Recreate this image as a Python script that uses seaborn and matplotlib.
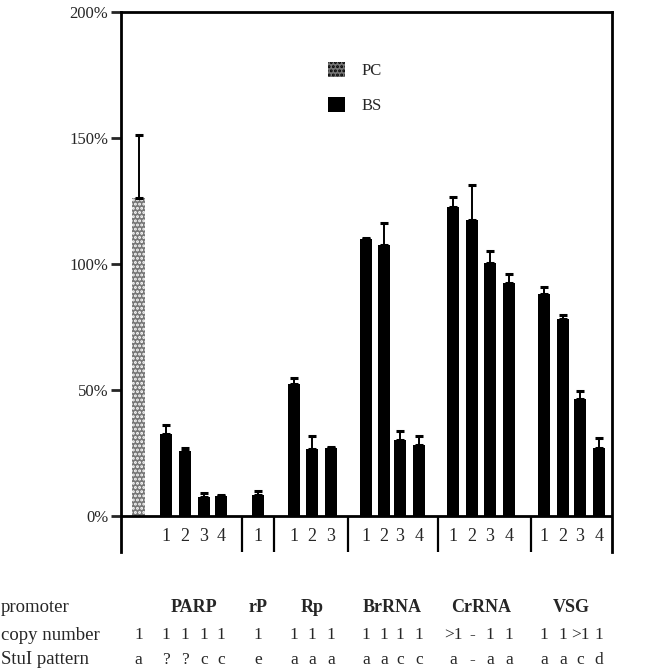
import numpy as np
import pandas as pd
import seaborn as sns
import matplotlib
matplotlib.use("Agg")
import matplotlib.pyplot as plt
import matplotlib.transforms as mtransforms
from matplotlib.patches import Patch

# ---------------- data ----------------
bar_ids = ["PC", "PARP1", "PARP2", "PARP3", "PARP4", "rP1", "Rp1", "Rp2", "Rp3",
           "BrRNA1", "BrRNA2", "BrRNA3", "BrRNA4", "CrRNA1", "CrRNA2", "CrRNA3", "CrRNA4",
           "VSG1", "VSG2", "VSG3", "VSG4"]
stage = ["PC"] + ["BS"] * 20
promoter = ["", "PARP", "PARP", "PARP", "PARP", "rP", "Rp", "Rp", "Rp",
            "BrRNA", "BrRNA", "BrRNA", "BrRNA", "CrRNA", "CrRNA", "CrRNA", "CrRNA",
            "VSG", "VSG", "VSG", "VSG"]
values = [126, 32.4, 25.8, 7.4, 7.9, 8.3, 52.5, 26.6, 26.9,
          109.9, 107.5, 30.2, 28.2, 122.7, 117.5, 100.3, 92.3,
          88.1, 78.0, 46.3, 27.1]
errors = [25, 3.6, 1.2, 1.6, 0.6, 1.7, 2.4, 5.3, 0.5,
          0.6, 8.6, 3.7, 3.7, 4.0, 13.8, 5.0, 3.6,
          2.6, 1.8, 3.4, 3.7]
sub_labels = ["", "1", "2", "3", "4", "1", "1", "2", "3",
              "1", "2", "3", "4", "1", "2", "3", "4", "1", "2", "3", "4"]
copy_number = ["1", "1", "1", "1", "1", "1", "1", "1", "1",
               "1", "1", "1", "1", ">1", "-", "1", "1", "1", "1", ">1", "1"]
stui_pattern = ["a", "?", "?", "c", "c", "e", "a", "a", "a",
                "a", "a", "c", "c", "a", "-", "a", "a", "a", "a", "c", "d"]
group_names = ["PARP", "rP", "Rp", "BrRNA", "CrRNA", "VSG"]
ytick_vals = [0, 50, 100, 150, 200]
ytick_labels = ["0%", "50%", "100%", "150%", "200%"]
row_labels = ["promoter", "copy number", "StuI pattern"]

# ---------------- layout ----------------
pos = [0.96, 2.46, 3.50, 4.54, 5.46, 7.49, 9.45, 10.44, 11.48,
       13.39, 14.37, 15.25, 16.28, 18.14, 19.18, 20.16, 21.20,
       23.11, 24.15, 25.08, 26.12]
separators = [6.6, 8.36, 12.4, 17.3, 22.4]
XLIM = (0, 26.83)
YLIM = (-14.3, 200)
BAR_W = 0.68

serif = ["Liberation Serif", "DejaVu Serif"]
sns.set_style("white")
plt.rcParams["font.family"] = serif
plt.rcParams["hatch.color"] = "black"
plt.rcParams["hatch.linewidth"] = 1.4

fig = plt.figure(figsize=(6.64, 6.70), dpi=100)
ax = fig.add_axes([121 / 664, 118 / 670, 491 / 664, 540 / 670])

df = pd.DataFrame({"pos": pos, "value": values, "stage": stage, "id": bar_ids})
native_unit = np.min(np.diff(np.unique(pos)))
palette = {"PC": "#767676", "BS": "black"}
sns.barplot(data=df, x="pos", y="value", hue="stage", native_scale=True, dodge=False,
            width=BAR_W / native_unit, palette=palette, saturation=1, linewidth=0,
            legend=False, ax=ax, errorbar=None)

for p in ax.patches:
    fc = p.get_facecolor()
    if abs(fc[0] - fc[1]) < 0.01 and fc[0] > 0.3:
        p.set_hatch("....")

ax.errorbar(pos, values, yerr=[np.zeros(len(errors)), errors], fmt="none",
            ecolor="black", elinewidth=1.4, capsize=3.0, capthick=2.2)

ax.set_xlim(*XLIM)
ax.set_ylim(*YLIM)
ax.axhline(0, color="black", lw=2.0, zorder=3)
ax.vlines(separators, YLIM[0], 0, color="black", lw=1.6)

for s in ["left", "right", "top"]:
    ax.spines[s].set_visible(True)
    ax.spines[s].set_color("black")
    ax.spines[s].set_linewidth(2.0)
ax.spines["bottom"].set_visible(False)

ax.set_xticks([])
ax.set_xlabel("")
ax.set_ylabel("")
ax.set_yticks(ytick_vals)
ax.set_yticklabels(ytick_labels)
ax.tick_params(axis="y", direction="out", length=7, width=2.0, labelsize=12, pad=2,
               left=True)

for x, lab in zip(pos, sub_labels):
    if lab:
        ax.text(x, -8.3, lab, ha="center", va="center", fontsize=13)

trans = mtransforms.blended_transform_factory(ax.transData, fig.transFigure)
row_y = [1 - 608 / 670, 1 - 635 / 670, 1 - 660 / 670]

for name in group_names:
    xs = [p for p, g in zip(pos, promoter) if g == name]
    ax.text(np.mean(xs), row_y[0], name, transform=trans, ha="center", va="center",
            fontsize=13, fontweight="bold")
for x, c, s in zip(pos, copy_number, stui_pattern):
    ax.text(x, row_y[1], c, transform=trans, ha="center", va="center", fontsize=12.5)
    ax.text(x, row_y[2], s, transform=trans, ha="center", va="center", fontsize=12.5)

for y, lab in zip(row_y, row_labels):
    fig.text(1 / 664, y, lab, ha="left", va="center", fontsize=13.5)

handles = [Patch(facecolor=palette["PC"], hatch="....", edgecolor="black", linewidth=0),
           Patch(facecolor=palette["BS"], edgecolor="black", linewidth=0)]
fig.legend(handles, ["PC", "BS"], loc="upper left",
           bbox_to_anchor=(328 / 664, 1 - 62 / 670), frameon=False, fontsize=12,
           handlelength=1.0, handleheight=1.0, labelspacing=1.05, handletextpad=1.0,
           borderpad=0, borderaxespad=0)

fig.savefig("out.png", dpi=100)
